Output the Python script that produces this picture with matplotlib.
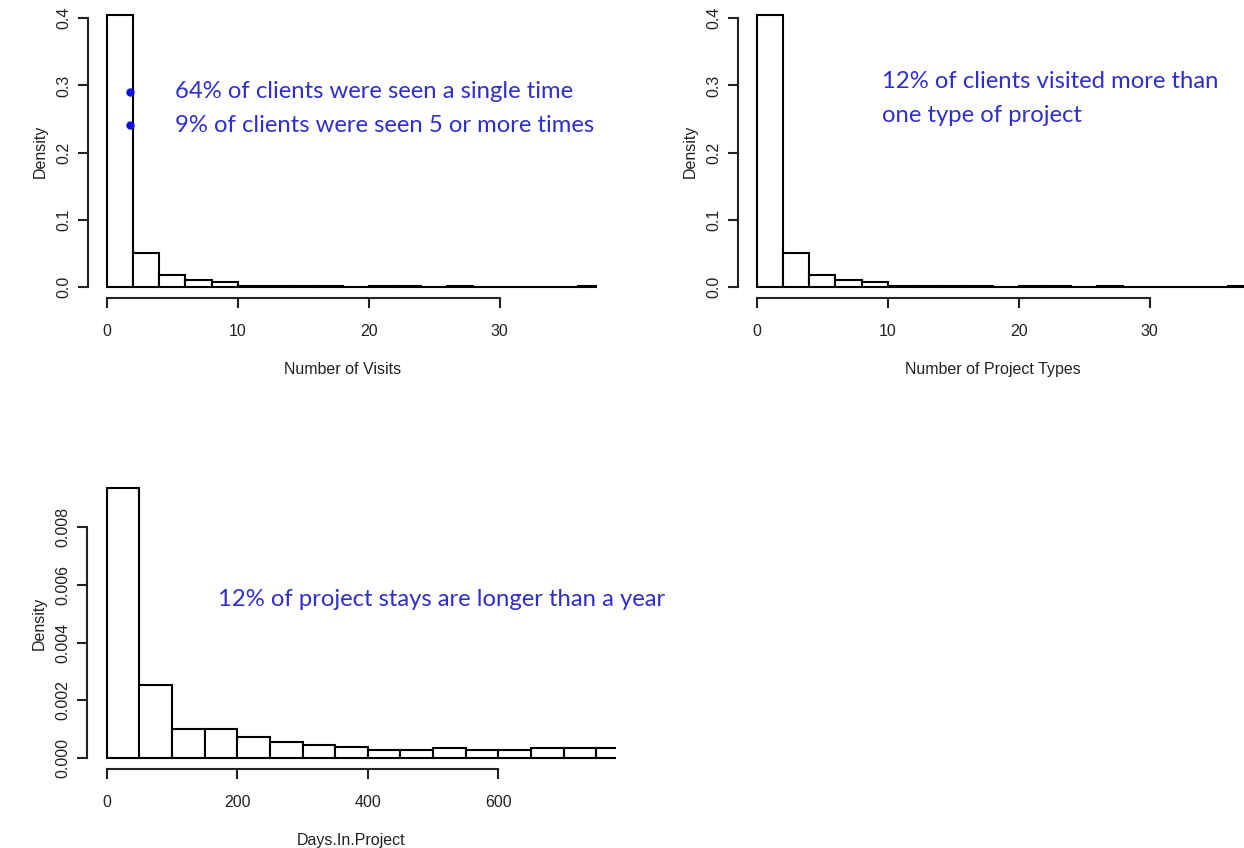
import numpy as np
import matplotlib

matplotlib.use("Agg")

import matplotlib.pyplot as plt

W, H = 1244, 848

# number of visits per client (density, bins of 2, left edges)
visit_bins = list(range(0, 38, 2))
visit_density = [0.405, 0.0505, 0.0175, 0.0104, 0.007, 0.0015, 0.0012, 0.001, 0.001,
                 0.0, 0.001, 0.001, 0.0, 0.001, 0.0, 0.0, 0.0, 0.0, 0.001]

# number of project types per client (density, bins of 2, left edges)
type_bins = list(range(0, 38, 2))
type_density = [0.405, 0.0505, 0.0175, 0.0104, 0.007, 0.0015, 0.0012, 0.001, 0.001,
                0.0, 0.001, 0.001, 0.0, 0.001, 0.0, 0.0, 0.0, 0.0, 0.001]

# days in project (density, bins of 50, left edges)
days_bins = list(range(0, 800, 50))
days_density = [0.00937, 0.00254, 0.00101, 0.00101, 0.00075, 0.00056, 0.00046, 0.0004,
                0.00029, 0.00029, 0.00035, 0.00029, 0.00029, 0.00034, 0.00034, 0.00034]

visit_notes = ["64% of clients were seen a single time",
               "9% of clients were seen 5 or more times"]
type_notes = ["12% of clients visited more than", "one type of project"]
days_notes = ["12% of project stays are longer than a year"]

NOTE_COLOR = "#2f2fcc"
AXIS_COLOR = "#222222"


def _axes_at(fig, left, top, right, bottom):
    return fig.add_axes([left / W, 1 - bottom / H, (right - left) / W, (bottom - top) / H])


def _r_hist(ax, bins, density, xlim, xticks, yticks, ytick_fmt, xlabel, width_px):
    bins = np.asarray(bins, dtype=float)
    width = bins[1] - bins[0]
    ax.bar(bins, density, width=width, align="edge", facecolor="white",
           edgecolor="black", linewidth=1.5, clip_on=True)

    top = max(max(density), yticks[-1])
    pad_y = 0.04 * top
    pad_x = 0.04 * (xlim[1] - xlim[0])
    ax.set_xlim(xlim[0] - pad_x, xlim[1] + pad_x)
    ax.set_ylim(-pad_y, top + pad_y)

    for side in ("top", "right"):
        ax.spines[side].set_visible(False)
    for side in ("left", "bottom"):
        ax.spines[side].set_linewidth(1.5)
        ax.spines[side].set_color(AXIS_COLOR)
    ax.spines["left"].set_bounds(yticks[0], yticks[-1])
    ax.spines["bottom"].set_bounds(xticks[0], xticks[-1])

    ax.set_xticks(xticks)
    ax.set_xticklabels([str(t) for t in xticks])
    ax.set_yticks(yticks)
    ax.set_yticklabels([ytick_fmt.format(t) for t in yticks], rotation=90, va="center")
    ax.tick_params(direction="out", length=7, width=1.5, color=AXIS_COLOR,
                   labelsize=11.5, labelcolor=AXIS_COLOR, pad=12)
    ax.tick_params(axis="y", pad=5)
    ax.set_xlabel(xlabel, fontsize=11.5, color=AXIS_COLOR, labelpad=16)
    ax.set_ylabel("Density", fontsize=11.5, color=AXIS_COLOR)
    ax.yaxis.set_label_coords(-40 / width_px, 0.5)
    ax.patch.set_alpha(0)


plt.rcParams["font.family"] = ["Liberation Sans", "DejaVu Sans"]

fig = plt.figure(figsize=(W / 100, H / 100), dpi=100)

ax1 = _axes_at(fig, 88, 4, 597, 298)
_r_hist(ax1, visit_bins, visit_density, (0, 36), [0, 10, 20, 30],
        [0.0, 0.1, 0.2, 0.3, 0.4], "{:.1f}", "Number of Visits", 509)

ax2 = _axes_at(fig, 738, 4, 1247, 298)
_r_hist(ax2, type_bins, type_density, (0, 36), [0, 10, 20, 30],
        [0.0, 0.1, 0.2, 0.3, 0.4], "{:.1f}", "Number of Project Types", 509)

ax3 = _axes_at(fig, 87, 477, 616, 769)
_r_hist(ax3, days_bins, days_density, (0, 750), [0, 200, 400, 600],
        [0.0, 0.002, 0.004, 0.006, 0.008], "{:.3f}", "Days.In.Project", 529)

note_font = dict(fontsize=17.2, color=NOTE_COLOR, family=["Lato", "DejaVu Sans"],
                 va="center", ha="left")

for i, line in enumerate(visit_notes):
    y = 1 - (92 + 33 * i) / H
    fig.text(175 / W, y, line, **note_font)
    fig.add_artist(plt.Line2D([130 / W], [y], marker="o", markersize=5,
                              color="#1010e0", transform=fig.transFigure))

for i, line in enumerate(type_notes):
    fig.text(882 / W, 1 - (82 + 33 * i) / H, line, **note_font)

fig.text(218 / W, 1 - 600 / H, days_notes[0], **note_font)

fig.savefig("out.png", dpi=100)
